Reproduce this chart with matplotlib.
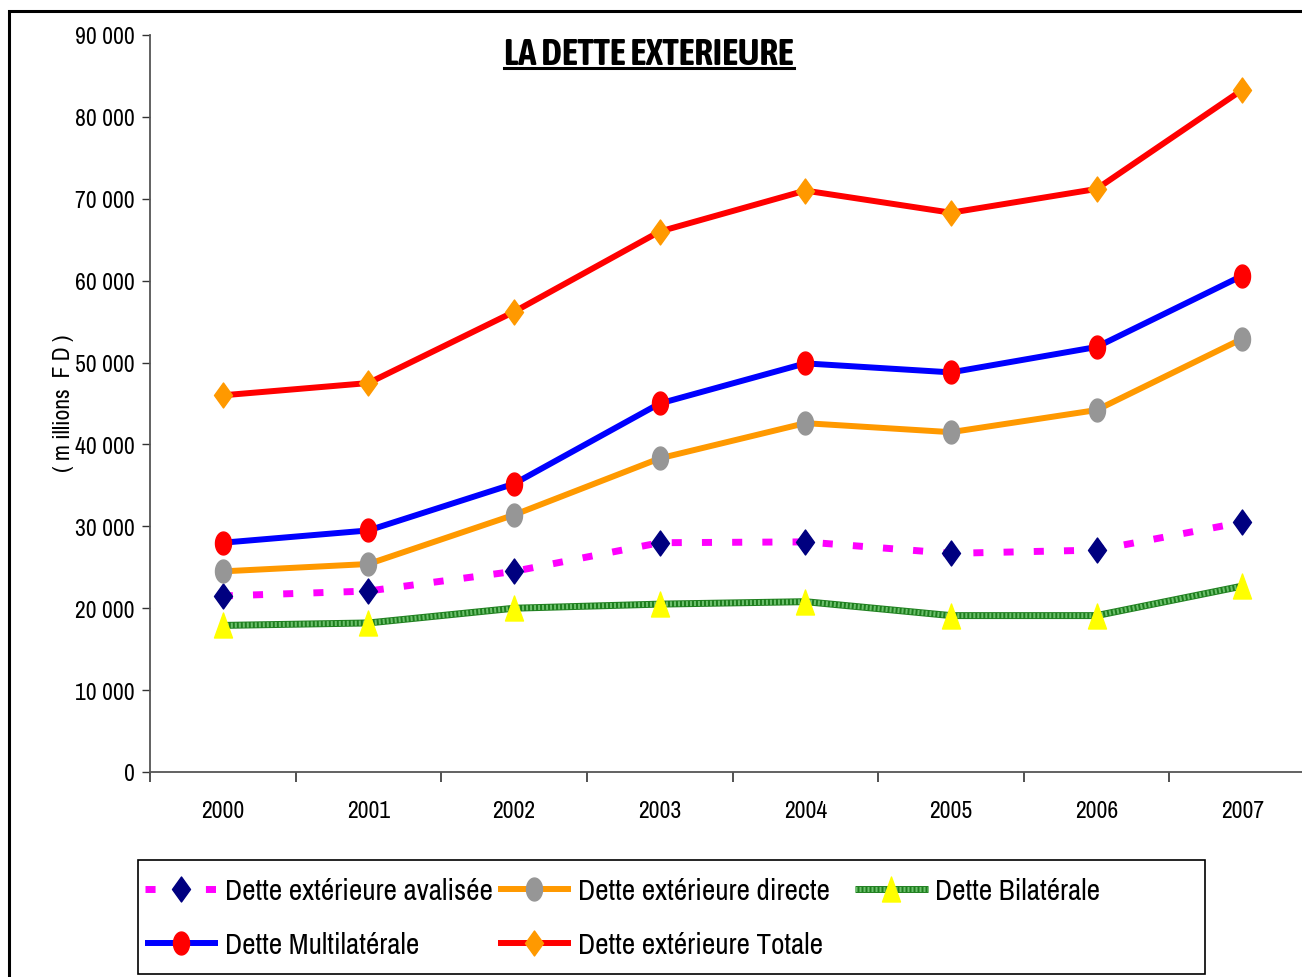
import matplotlib
matplotlib.use("Agg")
import matplotlib.pyplot as plt
import numpy as np
from matplotlib.path import Path
from matplotlib.lines import Line2D
from matplotlib.patches import Rectangle
from matplotlib.legend_handler import HandlerTuple
from matplotlib.ticker import FuncFormatter, MultipleLocator

plt.rcParams['font.family'] = ['Archivo Narrow', 'DejaVu Sans']

years = ['2000', '2001', '2002', '2003', '2004', '2005', '2006', '2007']
avalisee = [21500, 22100, 24500, 28000, 28100, 26700, 27100, 30500]
directe = [24500, 25400, 31400, 38300, 42600, 41500, 44200, 52900]
bilaterale = [17900, 18200, 20000, 20500, 20800, 19100, 19100, 22700]
multilaterale = [28000, 29500, 35200, 45000, 49900, 48800, 51900, 60600]
totale = [46000, 47500, 56200, 66000, 71000, 68300, 71200, 83300]

labels = ['Dette extérieure avalisée', 'Dette extérieure directe', 'Dette Bilatérale',
          'Dette Multilatérale', 'Dette extérieure Totale']

W, H = 1302, 978

# custom marker shapes
t = np.linspace(0, 2 * np.pi, 60)
ellipse = Path(np.column_stack([0.7 * np.cos(t), np.sin(t)]), closed=True)
diamond = Path([(0, 1), (0.72, 0), (0, -1), (-0.72, 0), (0, 1)], closed=True)
triangle = Path([(0, 1), (0.72, -1), (-0.72, -1), (0, 1)], closed=True)

sty_av = dict(color='#FF00FF', lw=5, linestyle=(0, (1.45, 2.9)), dash_capstyle='butt',
              marker=diamond, markersize=18, markerfacecolor='#000080', markeredgecolor='#000080')
sty_di = dict(color='#FF9900', lw=4.3, solid_capstyle='butt', marker=ellipse, markersize=16.5,
              markerfacecolor='#969696', markeredgecolor='#969696')
sty_bi_base = dict(color='#1E7F1E', lw=5, solid_capstyle='butt')
sty_bi_tex = dict(color='#6CC06C', lw=3.6, linestyle=(0, (0.4, 0.4)), dash_capstyle='butt')
sty_bi_mk = dict(color='none', lw=0, marker=triangle, markersize=18,
                 markerfacecolor='#FFFF00', markeredgecolor='#FFFF00')
sty_mu = dict(color='#0000FF', lw=4.3, solid_capstyle='butt', marker=ellipse, markersize=16.5,
              markerfacecolor='#FF0000', markeredgecolor='#FF0000')
sty_to = dict(color='#FF0000', lw=4.3, solid_capstyle='butt', marker=diamond, markersize=18,
              markerfacecolor='#FF9900', markeredgecolor='#FF9900')

fig = plt.figure(figsize=(W / 100, H / 100), dpi=100)
ax = fig.add_axes([150 / W, 1 - 773 / H, 1165 / W, (773 - 36) / H])
x = np.arange(len(years))

ax.plot(x, avalisee, zorder=3, **sty_av)
ax.plot(x, directe, zorder=4, **sty_di)
ax.plot(x, bilaterale, zorder=2, **sty_bi_base)
ax.plot(x, bilaterale, zorder=2, **sty_bi_tex)
ax.plot(x, bilaterale, zorder=3, **sty_bi_mk)
ax.plot(x, multilaterale, zorder=5, **sty_mu)
ax.plot(x, totale, zorder=6, **sty_to)

ax.set_xlim(-0.5, len(years) - 0.5)
ax.set_ylim(0, 90000)
ax.yaxis.set_major_locator(MultipleLocator(10000))
ax.yaxis.set_major_formatter(FuncFormatter(lambda v, p: f"{int(v):,}".replace(',', ' ')))
ax.set_xticks(x)
ax.set_xticklabels(years)
ax.set_xticks(np.arange(len(years) + 1) - 0.5, minor=True)
ax.tick_params(axis='x', which='major', length=0, pad=20, labelsize=17)
ax.tick_params(axis='x', which='minor', length=7, width=1.2, color='#333333', direction='out')
ax.tick_params(axis='y', length=6, width=1.0, color='#333333', labelsize=17, pad=5)
for s in ['top', 'right']:
    ax.spines[s].set_visible(False)
ax.spines['left'].set_color('#555555')
ax.spines['bottom'].set_color('#555555')
ax.spines['left'].set_linewidth(1.3)
ax.spines['bottom'].set_linewidth(1.3)

fig.text(63 / W, 1 - 403 / H, '( m illions  F D )', rotation=90, fontsize=17,
         ha='center', va='center')

title = fig.text(649 / W, 1 - 65 / H, 'LA DETTE EXTERIEURE', fontsize=26.5,
                 family=['Asap Condensed', 'DejaVu Sans'], fontweight='bold',
                 ha='center', va='baseline')

# legend: three columns placed at fixed positions like the original
h_av = Line2D([], [], **sty_av)
h_di = Line2D([], [], **sty_di)
h_bi = (Line2D([], [], **sty_bi_base), Line2D([], [], **sty_bi_tex), Line2D([], [], **sty_bi_mk))
h_mu = Line2D([], [], **sty_mu)
h_to = Line2D([], [], **sty_to)
columns = [([h_av, h_mu], [labels[0], labels[3]], 145),
           ([h_di, h_to], [labels[1], labels[4]], 498),
           ([h_bi], [labels[2]], 855)]
for handles, labs, x0 in columns:
    fig.legend(handles, labs, handler_map={tuple: HandlerTuple(ndivide=1, pad=0)},
               loc='upper left', bbox_to_anchor=(x0 / W, 1 - 878 / H),
               fontsize=21, frameon=False, handlelength=2.5, handletextpad=0.24,
               labelspacing=0.92, borderpad=0, borderaxespad=0)
fig.patches.append(Rectangle((138 / W, 1 - 975 / H), (1205 - 138) / W, (975 - 861) / H,
                             transform=fig.transFigure, fill=False, edgecolor='black', lw=1.2))

# outer frame
fig.patches.append(Rectangle((9 / W, -0.05), 1.1, 1 - 12 / H + 0.05, transform=fig.transFigure,
                             fill=False, edgecolor='black', lw=2.2))

# underline title
fig.canvas.draw()
bb = title.get_window_extent()
fig.add_artist(Line2D([bb.x0 / W, bb.x1 / W], [1 - 68.5 / H, 1 - 68.5 / H],
                      transform=fig.transFigure, color='black', lw=2.2))

fig.savefig('out.png', dpi=100)
